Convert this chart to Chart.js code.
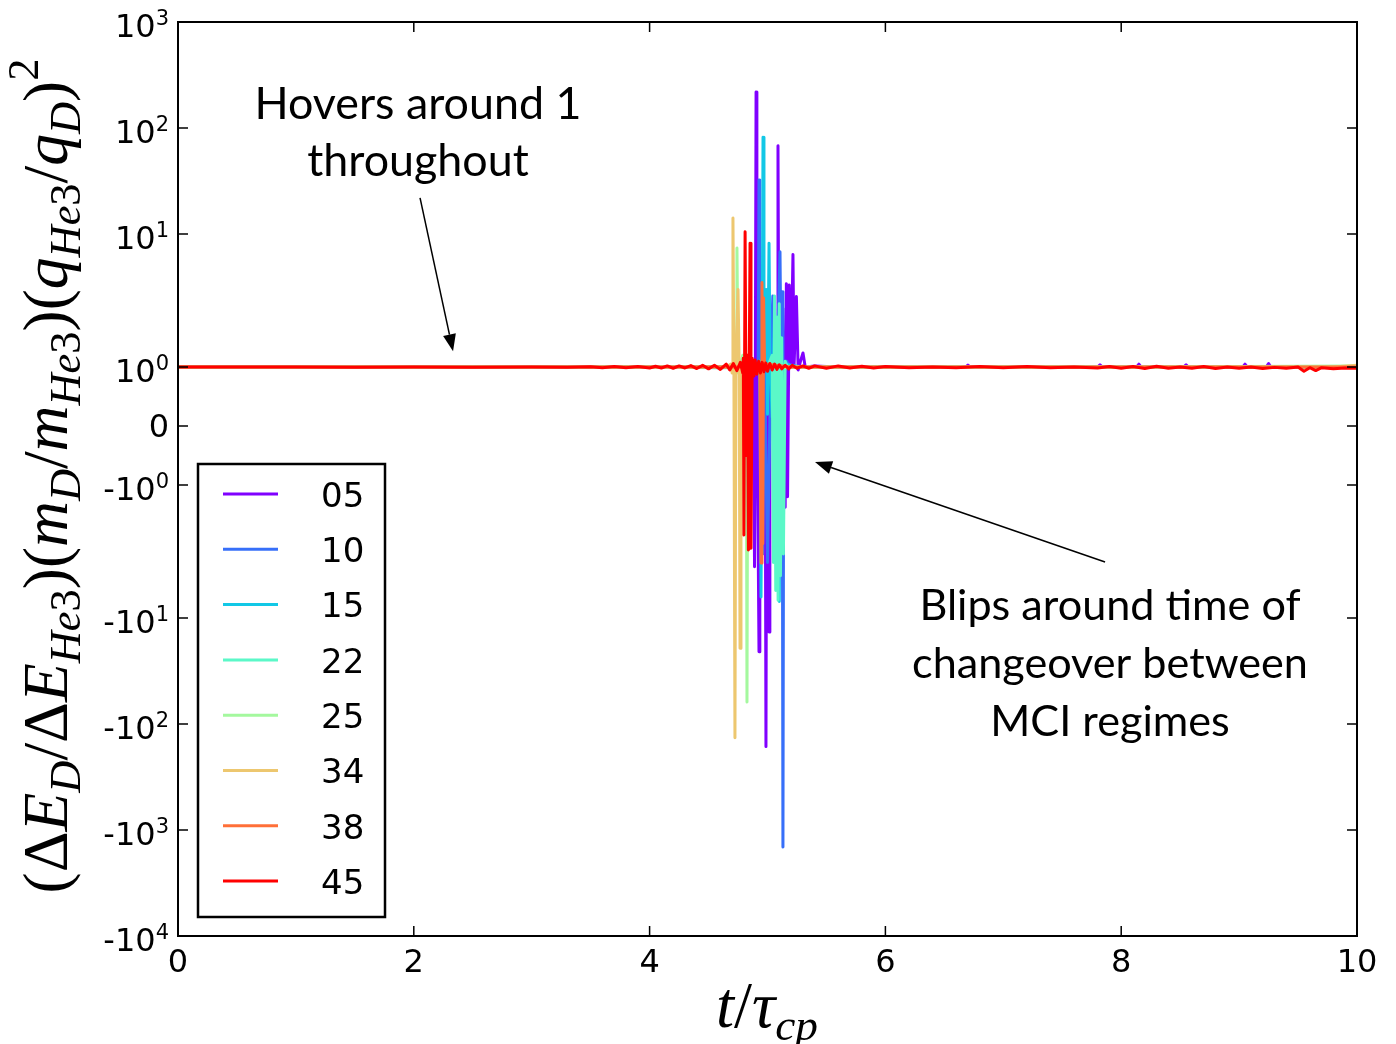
<!DOCTYPE html>
<html>
<head>
<meta charset="utf-8">
<title>Energy exchange ratio vs t/tau_cp</title>
<script src="https://cdn.jsdelivr.net/npm/chart.js@4"></script>
<style>
  html, body { margin: 0; padding: 0; background: #fff; }
  canvas { display: block; }
</style>
</head>
<body>
<canvas id="grafico" width="1396" height="1044"></canvas>
<script>
// Datos: pares [t/tau_cp, valor]
const etiquetas = ["05", "10", "15", "22", "25", "34", "38", "45"];
const colores = ["#8000ff", "#376ff9", "#12c8e6", "#5bf8c8", "#a4f89e", "#edc76f", "#ff6f38", "#ff0000"];
const xTicks = [0, 2, 4, 6, 8, 10];
const yTicks = [-10000, -1000, -100, -10, -1, 0, 1, 10, 100, 1000];

const s05 = [[0, 1], [1, 1], [2, 1], [3, 1], [4, 1], [4.5, 1.01], [4.7, 0.99], [4.8, 1.02], [4.85, 1.02],
  [4.88, 0.95], [4.89, -3.3], [4.897, 1.0], [4.903, 219], [4.91, 0.9], [4.928, -20.9], [4.935, 1.1],
  [4.955, 1.05], [4.98, 0.8], [4.987, -163], [4.994, 1.0], [5.005, -3.0], [5.013, -13.6], [5.02, 1.5],
  [5.04, 1.1], [5.06, -1.5], [5.082, 1.2], [5.089, 68], [5.096, 1.0], [5.11, -2.0], [5.13, 2.0],
  [5.15, -1.38], [5.16, 3.4], [5.17, -1.2], [5.185, 3.3], [5.2, 1.0], [5.216, 6.4], [5.225, 1.0],
  [5.245, 2.58], [5.26, 0.95], [5.28, 1.1], [5.301, 1.24], [5.32, 1.0], [5.4, 1.02], [5.6, 1.0],
  [6.0, 1.0], [6.68, 1.0], [6.7, 1.035], [6.72, 1.0], [7.8, 1.0], [7.82, 1.04], [7.84, 1.0],
  [8.13, 1.0], [8.15, 1.05], [8.17, 1.0], [8.53, 1.0], [8.55, 1.04], [8.57, 1.0], [9.03, 1.0],
  [9.05, 1.05], [9.07, 1.0], [9.23, 1.0], [9.25, 1.06], [9.27, 1.0], [10, 1.0]];

const s10 = [[0, 1], [2, 1], [4, 1], [4.6, 1.01], [4.9, 1.0], [4.921, 1.05], [4.928, 32.4], [4.935, 0.9],
  [4.96, -2.5], [4.975, 1.2], [5.0, -3.0], [5.03, 1.3], [5.045, 2.6], [5.06, -1.5], [5.085, 1.2],
  [5.106, 6.8], [5.115, 1.0], [5.124, 2.85], [5.131, -1450], [5.138, 1.0], [5.16, 1.1], [5.2, 1.0],
  [6, 1], [8, 1], [10, 1]];

const s15 = [[0, 1], [2, 1], [4, 1], [4.6, 0.99], [4.9, 1.0], [4.935, 1.1], [4.945, -6.35], [4.955, 1.2],
  [4.962, 82], [4.97, 1.0], [4.99, 3.0], [5.0, 0.2], [5.013, 8.2], [5.022, 1.0], [5.04, 0.15], [5.06, 2.0],
  [5.08, 1.0], [5.1, -7.0], [5.11, 1.0], [5.14, 1.05], [5.3, 1], [6, 1], [8, 1], [10, 1]];

const s22 = [[0, 1], [2, 1], [4, 1], [4.6, 1.0], [5.0, 1.0], [5.04, 1.2], [5.05, -3.0], [5.06, 2.6],
  [5.07, -5.5], [5.08, 1.85], [5.09, -6.8], [5.1, 2.2], [5.11, -4.0], [5.12, 1.5], [5.135, -2.5],
  [5.15, 1.1], [5.17, 1.0], [6, 1], [8, 1], [10, 1]];

const s25 = [[0, 1], [2, 1], [4, 1], [4.6, 1.0], [4.7, 1.0], [4.735, 1.1], [4.741, 7.4], [4.75, 0.9],
  [4.79, 1.2], [4.82, 1.0], [4.826, -62], [4.833, 1.0], [4.87, 1.0], [6, 1], [8, 1], [10, 1.02]];

const s34 = [[0, 1], [2, 1], [4, 1], [4.5, 1.0], [4.65, 1.0], [4.69, 1.05], [4.7, 0.9], [4.707, 14.2],
  [4.715, 1.0], [4.724, -135], [4.732, 1.1], [4.75, 3.0], [4.76, 1.0], [4.767, -19.3], [4.775, 1.0],
  [4.8, 1.05], [5.0, 1.0], [6, 1], [8, 1], [9.8, 1.0], [10, 1.03]];

const s38 = [[0, 1], [2, 1], [4, 1], [4.6, 1.0], [4.9, 1.0], [4.935, 0.95], [4.945, -3.03], [4.953, 3.5],
  [4.96, -2.0], [4.967, 2.5], [4.975, 1.0], [5.0, 1.05], [5.2, 1.0], [6, 1], [8, 1], [10, 1]];

const s45 = [[0, 1.0], [0.5, 1.0], [1, 1.0], [1.5, 0.998], [2, 1.0], [2.5, 0.997], [3, 1.0], [3.3, 0.995],
  [3.5, 1.005], [3.6, 0.99], [3.7, 1.01], [3.8, 0.99], [3.9, 1.01], [4.0, 0.985], [4.05, 1.015], [4.1, 0.985],
  [4.15, 1.02], [4.2, 0.98], [4.25, 1.02], [4.3, 0.985], [4.35, 1.025], [4.4, 0.975], [4.45, 1.03], [4.5, 0.97],
  [4.55, 1.03], [4.6, 0.96], [4.65, 1.05], [4.68, 0.95], [4.71, 1.06], [4.74, 0.94], [4.77, 1.08], [4.79, 0.9],
  [4.795, 1.15], [4.8, -1.85], [4.81, 10.5], [4.82, -0.5], [4.83, 1.2], [4.838, -2.29], [4.845, 1.0],
  [4.852, 8.2], [4.86, -2.2], [4.87, 1.15], [4.885, 0.85], [4.895, 1.12], [4.91, 0.88], [4.925, 1.1],
  [4.94, 0.9], [4.955, 1.08], [4.97, 0.92], [4.985, 1.07], [5.0, 0.93], [5.02, 1.06], [5.04, 0.95],
  [5.06, 1.05], [5.08, 0.96], [5.1, 1.04], [5.12, 0.97], [5.15, 1.03], [5.18, 0.97], [5.21, 1.03],
  [5.25, 0.98], [5.3, 1.02], [5.35, 0.98], [5.4, 1.02], [5.5, 0.98], [5.6, 1.02], [5.7, 0.985], [5.8, 1.015],
  [5.9, 0.985], [6.0, 1.01], [6.2, 0.99], [6.4, 1.0], [6.6, 0.99], [6.8, 1.01], [7.0, 0.99], [7.2, 1.01],
  [7.4, 0.99], [7.6, 1.0], [7.8, 0.985], [7.9, 1.01], [8.0, 0.98], [8.1, 1.01], [8.2, 0.975], [8.3, 1.015],
  [8.4, 0.98], [8.5, 1.0], [8.6, 0.98], [8.7, 1.01], [8.8, 0.975], [8.9, 1.0], [9.0, 0.98], [9.1, 1.0],
  [9.2, 0.975], [9.3, 0.995], [9.4, 0.98], [9.5, 1.0], [9.55, 0.93], [9.6, 0.99], [9.65, 0.94], [9.7, 0.99],
  [9.8, 0.97], [9.9, 0.985], [10, 0.98]];

const series = [s05, s10, s15, s22, s25, s34, s38, s45];

// Textos
const textoHovers = ["Hovers around 1", "throughout"];
const textoBlips = ["Blips around time of", "changeover between", "MCI regimes"];
const yLabel = [["(", "r", 0], ["Δ", "r", 0], ["E", "i", 0], ["D", "i", -1], ["/", "r", 0], ["Δ", "r", 0],
  ["E", "i", 0], ["He", "i", -1], ["3", "r", -1], [")", "r", 0], ["(", "r", 0], ["m", "i", 0], ["D", "i", -1],
  ["/", "r", 0], ["m", "i", 0], ["He", "i", -1], ["3", "r", -1], [")", "r", 0], ["(", "r", 0], ["q", "i", 0],
  ["He", "i", -1], ["3", "r", -1], ["/", "r", 0], ["q", "i", 0], ["D", "i", -1], [")", "r", 0], ["2", "r", 1]];
const xLabel = [["t", "i", 0], ["/", "r", 0], ["τ", "i", 0], ["cp", "i", -1]];

/*******************************************************************************/
// Escala symlog (linthresh 2, estilo matplotlib antiguo)
const LINTHRESH = 2;
const LINSCALE_ADJ = 1 / (1 - 1 / 10);

function symlog(v) {
  const a = Math.abs(v);
  if (a <= LINTHRESH) return v * LINSCALE_ADJ;
  return Math.sign(v) * LINTHRESH * (LINSCALE_ADJ + Math.log10(a / LINTHRESH));
}

function symexp(u) {
  const a = Math.abs(u);
  if (a <= LINTHRESH * LINSCALE_ADJ) return u / LINSCALE_ADJ;
  return Math.sign(u) * LINTHRESH * Math.pow(10, a / LINTHRESH - LINSCALE_ADJ);
}

class SymlogScale extends Chart.Scale {
  determineDataLimits() {
    this.min = this.options.min;
    this.max = this.options.max;
  }
  buildTicks() {
    return yTicks.map((v) => ({ value: v }));
  }
  getLabelForValue(v) {
    return String(v);
  }
  configure() {
    super.configure();
    this._lo = symlog(this.min);
    this._hi = symlog(this.max);
  }
  getPixelForValue(v) {
    return this.getPixelForDecimal((symlog(v) - this._lo) / (this._hi - this._lo));
  }
  getValueForPixel(p) {
    return symexp(this._lo + this.getDecimalForPixel(p) * (this._hi - this._lo));
  }
}
SymlogScale.id = "symlog";
SymlogScale.defaults = {};
Chart.register(SymlogScale);

/*******************************************************************************/
// Texto matematico
function fuenteMath(tipo, size) {
  return (tipo === "i" ? "italic " : "") + size + 'px "Liberation Serif"';
}

function anchoMath(ctx, partes, size) {
  let w = 0;
  partes.forEach((p) => {
    ctx.font = fuenteMath(p[1], p[2] === 0 ? size : size * 0.7);
    w += ctx.measureText(p[0]).width;
  });
  return w;
}

function dibujarMath(ctx, partes, size, cx, baseY) {
  let x = cx - anchoMath(ctx, partes, size) / 2;
  ctx.textAlign = "left";
  ctx.textBaseline = "alphabetic";
  partes.forEach((p) => {
    const s = p[2] === 0 ? size : size * 0.7;
    const dy = p[2] < 0 ? size * 0.2 : (p[2] > 0 ? -size * 0.45 : 0);
    ctx.font = fuenteMath(p[1], s);
    ctx.fillText(p[0], x, baseY + dy);
    x += ctx.measureText(p[0]).width;
  });
}

function bloqueTexto(ctx, lineas, cx, base0, paso, anchoObjetivo) {
  ctx.font = "40px Lato";
  const maxW = Math.max(...lineas.map((l) => ctx.measureText(l).width));
  ctx.font = (40 * anchoObjetivo / maxW) + "px Lato";
  ctx.textAlign = "center";
  ctx.textBaseline = "alphabetic";
  lineas.forEach((l, i) => ctx.fillText(l, cx, base0 + i * paso));
}

function flecha(ctx, x1, y1, x2, y2) {
  const ang = Math.atan2(y2 - y1, x2 - x1);
  const L = 17, W = 6.5;
  const bx = x2 - L * Math.cos(ang), by = y2 - L * Math.sin(ang);
  ctx.lineWidth = 1.5;
  ctx.beginPath();
  ctx.moveTo(x1, y1);
  ctx.lineTo(bx, by);
  ctx.stroke();
  ctx.beginPath();
  ctx.moveTo(x2, y2);
  ctx.lineTo(bx - W * Math.sin(ang), by + W * Math.cos(ang));
  ctx.lineTo(bx + W * Math.sin(ang), by - W * Math.cos(ang));
  ctx.closePath();
  ctx.fill();
}

/*******************************************************************************/
// Decorado: marco, ticks, etiquetas, leyenda, anotaciones
const decorado = {
  id: "decorado",
  afterDraw(chart) {
    const ctx = chart.ctx;
    const a = chart.chartArea;
    const xs = chart.scales.x;
    const ys = chart.scales.y;
    ctx.save();
    ctx.fillStyle = "#000";
    ctx.strokeStyle = "#000";

    // ticks hacia dentro
    ctx.lineWidth = 1.5;
    ctx.beginPath();
    xs.ticks.forEach((t) => {
      const px = xs.getPixelForValue(t.value);
      ctx.moveTo(px, a.bottom); ctx.lineTo(px, a.bottom - 10);
      ctx.moveTo(px, a.top); ctx.lineTo(px, a.top + 10);
    });
    ys.ticks.forEach((t) => {
      const py = ys.getPixelForValue(t.value);
      ctx.moveTo(a.left, py); ctx.lineTo(a.left + 10, py);
      ctx.moveTo(a.right, py); ctx.lineTo(a.right - 10, py);
    });
    ctx.stroke();

    // marco
    ctx.lineWidth = 2;
    ctx.strokeRect(a.left, a.top, a.right - a.left, a.bottom - a.top);

    // etiquetas eje x
    ctx.font = '32px "DejaVu Sans"';
    ctx.textAlign = "center";
    ctx.textBaseline = "alphabetic";
    xs.ticks.forEach((t) => {
      ctx.fillText(String(t.value), xs.getPixelForValue(t.value), a.bottom + 36);
    });

    // etiquetas eje y (potencias de 10)
    const finX = a.left - 9;
    ys.ticks.forEach((t) => {
      const py = ys.getPixelForValue(t.value);
      ctx.textAlign = "left";
      if (t.value === 0) {
        ctx.font = '32px "DejaVu Sans"';
        const w = ctx.measureText("0").width;
        ctx.fillText("0", finX - w, py + 11.5);
        return;
      }
      const principal = (t.value < 0 ? "-" : "") + "10";
      const exp = String(Math.round(Math.log10(Math.abs(t.value))));
      ctx.font = '21px "DejaVu Sans"';
      const wExp = ctx.measureText(exp).width;
      ctx.font = '32px "DejaVu Sans"';
      const wPri = ctx.measureText(principal).width;
      const x0 = finX - wExp - wPri;
      ctx.fillText(principal, x0, py + 15);
      ctx.font = '21px "DejaVu Sans"';
      ctx.fillText(exp, x0 + wPri, py + 3);
    });

    // titulo eje x
    let size = 50 * 102 / anchoMath(ctx, xLabel, 50);
    dibujarMath(ctx, xLabel, size, 767, 1027);

    // titulo eje y
    size = 50 * 835 / anchoMath(ctx, yLabel, 50);
    ctx.save();
    ctx.translate(46, 476);
    ctx.rotate(-Math.PI / 2);
    dibujarMath(ctx, yLabel, size, 0, size * 0.33);
    ctx.restore();

    // leyenda
    const lx = 198, ly = 464, lw = 187, lh = 453;
    ctx.fillStyle = "#fff";
    ctx.fillRect(lx, ly, lw, lh);
    ctx.lineWidth = 2.5;
    ctx.strokeRect(lx, ly, lw, lh);
    ctx.font = '34px "DejaVu Sans"';
    ctx.textAlign = "left";
    ctx.textBaseline = "middle";
    chart.data.datasets.forEach((ds, i) => {
      const yy = 494 + i * 55.3;
      ctx.strokeStyle = ds.borderColor;
      ctx.lineWidth = 3;
      ctx.beginPath();
      ctx.moveTo(223, yy);
      ctx.lineTo(278, yy);
      ctx.stroke();
      ctx.fillStyle = "#000";
      ctx.fillText(ds.label, 321, yy + 4);
    });

    // anotaciones
    ctx.fillStyle = "#000";
    ctx.strokeStyle = "#000";
    bloqueTexto(ctx, textoHovers, 418, 119, 57, 327);
    bloqueTexto(ctx, textoBlips, 1110, 620, 58, 396);
    flecha(ctx, xs.getPixelForValue(2.053), ys.getPixelForValue(21.9),
      xs.getPixelForValue(2.333), ys.getPixelForValue(1.27));
    flecha(ctx, xs.getPixelForValue(7.863), ys.getPixelForValue(-2.97),
      xs.getPixelForValue(5.403), ys.getPixelForValue(-0.611));

    ctx.restore();
  }
};

/*******************************************************************************/
// Grafico
const datasets = series.map((s, i) => ({
  label: etiquetas[i],
  data: s.map((p) => ({ x: p[0], y: p[1] })),
  borderColor: colores[i],
  backgroundColor: colores[i],
  borderWidth: 3,
  borderJoinStyle: "round",
  pointRadius: 0,
  fill: false,
  tension: 0,
  order: series.length - 1 - i
}));

const ctx = document.getElementById("grafico").getContext("2d");
new Chart(ctx, {
  type: "line",
  data: { datasets: datasets },
  options: {
    responsive: false,
    animation: false,
    events: [],
    layout: { padding: { left: 0, right: 39, top: 22, bottom: 0 } },
    plugins: {
      legend: { display: false },
      tooltip: { enabled: false }
    },
    scales: {
      x: {
        type: "linear",
        min: 0,
        max: 10,
        ticks: { display: false },
        grid: { display: false },
        border: { display: false },
        afterBuildTicks: (s) => { s.ticks = xTicks.map((v) => ({ value: v })); },
        afterFit: (s) => { s.height = 108; }
      },
      y: {
        type: "symlog",
        min: -10000,
        max: 1000,
        ticks: { display: false },
        grid: { display: false },
        border: { display: false },
        afterFit: (s) => { s.width = 178; }
      }
    }
  },
  plugins: [decorado]
});
</script>
</body>
</html>
